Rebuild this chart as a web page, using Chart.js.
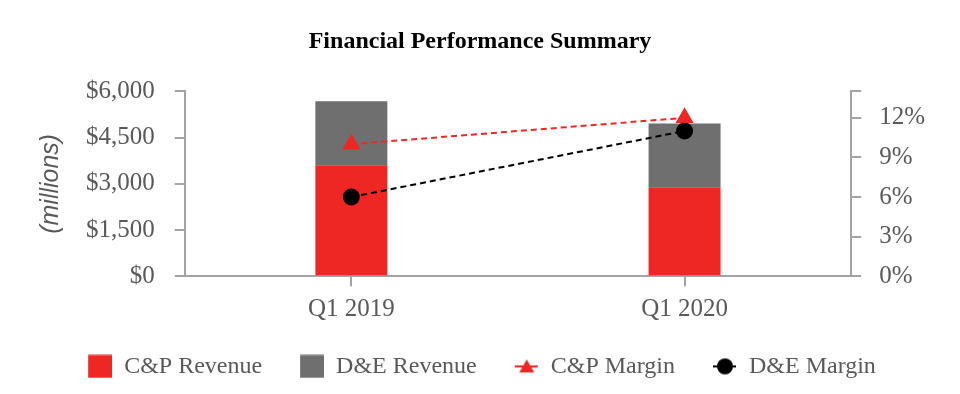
<!DOCTYPE html>
<html>
<head>
<meta charset="utf-8">
<script src="https://cdn.jsdelivr.net/npm/chart.js@4/dist/chart.umd.min.js"></script>
<style>
  body { margin: 0; background: #fff; }
</style>
</head>
<body>
<canvas id="chart" width="960" height="394"></canvas>
<script>
// data
const quarters = ['Q1 2019', 'Q1 2020'];
const cpRevenue = [3600, 2890];
const deRevenue = [2080, 2070];
const cpMargin = [10, 12];
const deMargin = [6, 11];

const RED = '#ee2724';
const GRAY = '#6f6f6f';
const AXIS = '#a3a3a3';
const TEXT = '#595959';
const SERIF = '"Liberation Serif", "Times New Roman", serif';

// legend markers: transparent gap on the left, then a 24px marker
function marker(kind) {
    const c = document.createElement('canvas');
    c.width = 52; c.height = 24;
    const g = c.getContext('2d');
    const x0 = 28;
    if (kind === 'cpRev' || kind === 'deRev') {
        g.fillStyle = kind === 'cpRev' ? RED : GRAY;
        g.fillRect(x0, 0.5, 24, 23);
    } else {
        const col = kind === 'cpMar' ? RED : '#000';
        g.strokeStyle = col;
        g.lineWidth = 2;
        g.beginPath(); g.moveTo(x0, 12); g.lineTo(x0 + 23, 12); g.stroke();
        g.fillStyle = col;
        g.beginPath();
        if (kind === 'cpMar') {
            g.moveTo(x0 + 12, 5); g.lineTo(x0 + 19.5, 18); g.lineTo(x0 + 4.5, 18);
        } else {
            g.arc(x0 + 12, 12, 8, 0, Math.PI * 2);
        }
        g.fill();
    }
    return c;
}
const legendMarks = [marker('cpRev'), marker('deRev'), marker('cpMar'), marker('deMar')];

// the leading gap in the markers pushes the centred legend right, pull it back
const legendShift = {
    id: 'legendShift',
    afterLayout(chart) {
        chart.legend.left -= 12;
        chart.legend.right -= 12;
    }
};

new Chart(document.getElementById('chart'), {
    type: 'bar',
    data: {
        labels: quarters,
        datasets: [
            { label: 'C&P Revenue', data: cpRevenue, backgroundColor: RED, order: 2, yAxisID: 'y' },
            { label: 'D&E Revenue', data: deRevenue, backgroundColor: GRAY, order: 2, yAxisID: 'y' },
            {
                type: 'line', label: 'C&P Margin', data: cpMargin, yAxisID: 'y1', order: 0,
                borderColor: RED, backgroundColor: RED, borderWidth: 2, borderDash: [6, 4],
                pointStyle: 'triangle', pointRadius: 8.5, pointHoverRadius: 8.5
            },
            {
                type: 'line', label: 'D&E Margin', data: deMargin, yAxisID: 'y1', order: 1,
                borderColor: '#000', backgroundColor: '#000', borderWidth: 2, borderDash: [6, 4],
                pointStyle: 'circle', pointRadius: 7.5, pointHoverRadius: 7.5
            }
        ]
    },
    plugins: [legendShift],
    options: {
        responsive: false,
        animation: false,
        layout: { padding: { left: 17, right: 17, top: 0, bottom: 5.6 } },
        datasets: { bar: { categoryPercentage: 1, barPercentage: 0.216 } },
        plugins: {
            title: {
                display: true,
                text: 'Financial Performance Summary',
                color: '#000',
                font: { family: SERIF, size: 24, weight: 'bold' },
                padding: { top: 27.6, bottom: 35 }
            },
            legend: {
                position: 'bottom',
                labels: {
                    usePointStyle: true,
                    pointStyleWidth: 52,
                    padding: 10,
                    color: TEXT,
                    font: { family: SERIF, size: 24 },
                    generateLabels: function (chart) {
                        const items = Chart.defaults.plugins.legend.labels.generateLabels(chart);
                        items.sort((a, b) => a.datasetIndex - b.datasetIndex);
                        items.forEach(it => { it.pointStyle = legendMarks[it.datasetIndex]; });
                        return items;
                    }
                }
            },
            tooltip: { enabled: false }
        },
        scales: {
            x: {
                stacked: true,
                grid: { offset: false, drawOnChartArea: false, color: AXIS, lineWidth: 2, tickLength: 10 },
                border: { color: AXIS, width: 2 },
                ticks: { color: TEXT, font: { family: SERIF, size: 25 }, padding: 8 },
                // empty title only used as a spacer above the legend
                title: { display: true, text: '', font: { size: 1 }, padding: { top: 0, bottom: 11 } }
            },
            y: {
                stacked: true,
                min: 0, max: 6000,
                grid: { drawOnChartArea: false, color: AXIS, lineWidth: 2, tickLength: 10 },
                border: { color: AXIS, width: 2 },
                ticks: {
                    stepSize: 1500, color: TEXT, padding: 20,
                    font: { family: SERIF, size: 25 },
                    callback: v => '$' + v.toLocaleString('en-US')
                },
                title: {
                    display: true, text: '(millions)', color: TEXT,
                    font: { family: '"Liberation Sans", Arial, sans-serif', size: 25, style: 'italic' },
                    padding: { top: 19, bottom: 0 }
                }
            },
            y1: {
                position: 'right',
                min: 0, max: 14,
                grid: { drawOnChartArea: false, color: AXIS, lineWidth: 2, tickLength: 10 },
                border: { color: AXIS, width: 2 },
                ticks: {
                    stepSize: 3, color: TEXT, padding: 18,
                    font: { family: SERIF, size: 25 },
                    callback: v => (v % 3 === 0 ? v + '%' : '')
                }
            }
        }
    }
});
</script>
</body>
</html>
